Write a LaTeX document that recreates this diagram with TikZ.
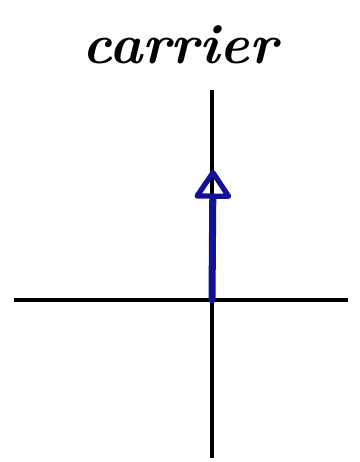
\documentclass[tikz,border=0pt]{standalone}
\usepackage{tikz}
\usetikzlibrary{arrows.meta,positioning}
\definecolor{penblue}{RGB}{18,18,150}

\begin{document}
\begin{tikzpicture}
% frame with the reference margins
\useasboundingbox (-4.24,-3.24) rectangle (2.96,6.0);

% axes
\coordinate (O) at (0,0);
\coordinate (xl) at (-3.96,0);
\coordinate (xr) at (2.72,0);
\coordinate (yb) at (0,-3.16);
\coordinate (yt) at (0,4.2);
\draw[line width=2.2pt, black] (xl) -- (xr);
\draw[line width=2.2pt, black] (yb) -- (yt);

% carrier phasor
\coordinate (tip) at (0.02,2.6);
\draw[line width=4pt, penblue, line cap=round,
  -{Triangle[open, length=0.62cm, width=0.8cm, line width=3pt, round]}] (O) -- (tip);

% title
\node[font=\fontsize{32}{38}\selectfont\bfseries\itshape] (title) at (-0.64,5.1) {carrier};
\end{tikzpicture}
\end{document}
